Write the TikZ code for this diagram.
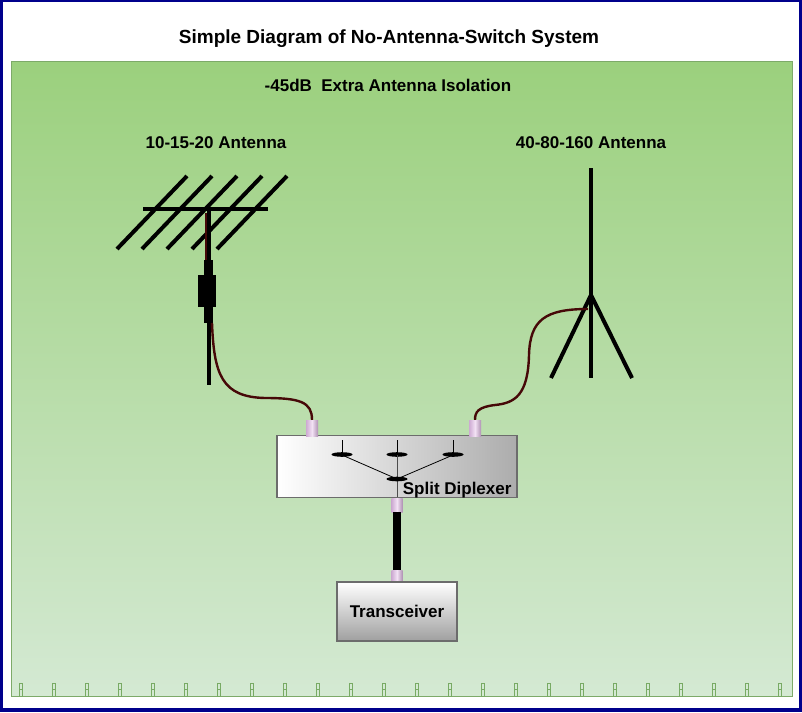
\documentclass[tikz,border=0pt]{standalone}
\usepackage{fontspec}
\setmainfont{Liberation Sans}
\usepackage{tikz}

\definecolor{navyframe}{RGB}{0,0,140}
\definecolor{panelgreen}{RGB}{155,208,125}
\definecolor{panelpale}{RGB}{212,233,211}
\definecolor{paneledge}{RGB}{125,170,105}
\definecolor{coaxbrown}{RGB}{70,8,8}
\definecolor{plugpink}{RGB}{205,170,210}
\definecolor{plugpale}{RGB}{242,225,244}
\definecolor{tickgreen}{RGB}{120,170,100}

\tikzset{
    rod/.style={line width=4pt, black},
    coax/.style={line width=2.4pt, coaxbrown},
    plug/.style={minimum width=12pt, minimum height=16pt, inner sep=0pt,
        left color=plugpink, right color=plugpink!85!black, middle color=plugpale},
    lbl/.style={font=\fontsize{17}{20}\selectfont\bfseries},
    unit/.style={draw=gray!85!black, line width=1.2pt, inner sep=0pt}
}

\begin{document}
\begin{tikzpicture}[x=1pt, y=-1pt]
    \useasboundingbox (0,0) rectangle (802,712);
    \fill [navyframe] (0,0) rectangle (802,712);
    \fill [white] (3,2) rectangle (798.5,708);
    \path [draw=paneledge, line width=1pt, top color=panelgreen, bottom color=panelpale] (11,61) rectangle (792,696);
    \foreach \i in {0,...,23}
        \draw [tickgreen, line width=0.8pt] (19+33*\i,683) rectangle +(3.5,13) (19+33*\i,689.5) -- +(3.5,0);

    \node [lbl, font=\fontsize{19}{22}\selectfont\bfseries, anchor=base] (title) at (389,43) {Simple Diagram of No-Antenna-Switch System};
    \node [lbl, anchor=base] (isolation) at (388,91) {-45dB\ \ Extra Antenna Isolation};
    \node [lbl, anchor=base] (yagilabel) at (216,148) {10-15-20 Antenna};
    \node [lbl, anchor=base] (vertlabel) at (591,148) {40-80-160 Antenna};

    \draw [rod] (143,209) -- (268,209);
    \foreach \i in {0,...,4}
        \draw [rod] (117+25*\i,249) -- (187+25*\i,176);
    \draw [rod] (209,209) -- (209,385);
    \draw [coaxbrown, line width=1.2pt] (206,213) -- (206,262);
    \fill (204,260) rectangle (213,323);
    \fill (198,275) rectangle (216,307);
    \coordinate (yagifeed) at (212,323);

    \coordinate (gpbase) at (591,295);
    \coordinate (gpfeed) at (588,309);
    \draw [rod] (591,168) -- (591,378);
    \draw [rod] (gpbase) -- (551,378);
    \draw [rod] (gpbase) -- (632,378);

    \node [unit, minimum width=240pt, minimum height=62pt, left color=white, right color=gray!65] (diplexer) at (397,466.5) {};
    \foreach \x in {342,397,453} {
        \draw [line width=1pt] (\x,440) -- (\x,454);
        \fill (\x,454.5) ellipse (10.5 and 2.3);
    }
    \draw [gray!60!black, line width=0.8pt] (397,455) -- (397,497);
    \draw [line width=0.8pt] (342,455) -- (397,479) -- (453,455);
    \fill (397,479) ellipse (10.5 and 2.3);
    \node [lbl, anchor=base east] (diplabel) at (515,494) {Split Diplexer};

    \node [plug] (lplug) at (312,428) {};
    \node [plug] (rplug) at (475,428) {};
    \node [plug, minimum width=11pt, minimum height=14pt] (dplug) at (397,505) {};
    \node [plug, minimum width=11pt, minimum height=12pt] (tplug) at (397,576) {};
    \node [unit, lbl, minimum width=120pt, minimum height=59pt, top color=white, bottom color=gray!75] (transceiver) at (397,611.5) {Transceiver};

    \draw [line width=8pt] (dplug.south) -- (tplug.north);
    \draw [coax] (yagifeed) .. controls (214,375) and (222,397) .. (265,398) .. controls (300,398) and (312,402) .. (lplug.north);
    \draw [coax] (gpfeed) .. controls (545,309) and (530,320) .. (529,355) .. controls (528,395) and (515,403) .. (495,405) .. controls (478,407) and (475,412) .. (rplug.north);
\end{tikzpicture}
\end{document}
